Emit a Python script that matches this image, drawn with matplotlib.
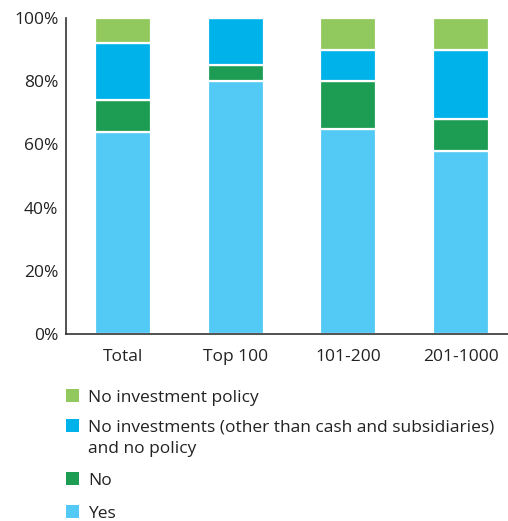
import matplotlib
matplotlib.use("Agg")
import matplotlib.pyplot as plt
from matplotlib.patches import Rectangle
from matplotlib.ticker import FuncFormatter

categories = ["Total", "Top 100", "101-200", "201-1000"]
yes = [64, 80, 65, 58]
no = [10, 5, 15, 10]
no_investments = [18, 15, 10, 22]
no_policy = [8, 0, 10, 10]

series = [
    ("Yes", yes, "#52CAF5"),
    ("No", no, "#1D9C54"),
    ("No investments (other than cash and subsidiaries)\nand no policy", no_investments, "#00B2EA"),
    ("No investment policy", no_policy, "#92C95E"),
]

plt.rcParams["font.family"] = ["Open Sans", "DejaVu Sans"]
plt.rcParams["font.size"] = 12.5

W, H = 508, 521
fig = plt.figure(figsize=(W / 100, H / 100), dpi=100)
ax = fig.add_axes([0.13, 0.359, 0.87, 0.6065])

x = range(len(categories))
bottom = [0] * len(categories)
for label, vals, color in series:
    ax.bar(x, vals, width=0.5, bottom=bottom, color=color,
           edgecolor="white", linewidth=1.6, label=label)
    bottom = [b + v for b, v in zip(bottom, vals)]

ax.set_ylim(0, 100)
ax.set_xlim(-0.507, 3.42)
ax.set_yticks(range(0, 101, 20))
ax.yaxis.set_major_formatter(FuncFormatter(lambda v, p: f"{int(v)}%"))
ax.set_xticks(list(x))
ax.set_xticklabels(categories)
ax.tick_params(axis="y", length=0, pad=5.5, colors="#222222")
ax.tick_params(axis="x", length=0, pad=11, colors="#222222")
for s in ("top", "right"):
    ax.spines[s].set_visible(False)
for s in ("left", "bottom"):
    ax.spines[s].set_color("#333333")
    ax.spines[s].set_linewidth(1.2)

# Legend below the plot, top entry first; swatch sits beside the first line.
# (first-line baseline, last-line baseline) in pixel rows from the top
rows = [(402, 402), (432, 453), (485, 485), (518, 518)]
for (label, _, color), (first, last) in zip(series[::-1], rows):
    fig.patches.append(Rectangle((66 / W, 1 - first / H), 13 / W, 13 / H,
                                 transform=fig.transFigure, color=color,
                                 linewidth=0))
    fig.text(88 / W, 1 - last / H, label, ha="left", va="baseline",
             linespacing=1.45, color="#222222", fontsize=12.5)

fig.savefig("out.png", dpi=100)
